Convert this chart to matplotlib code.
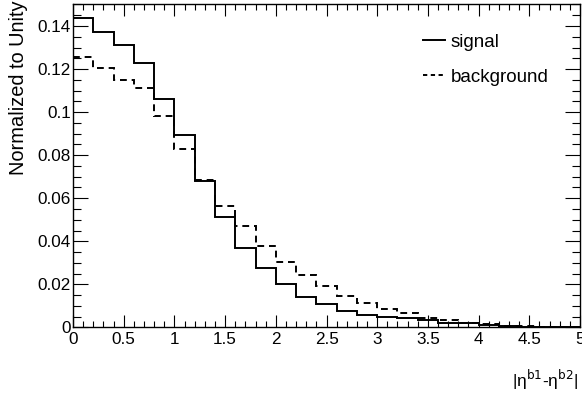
import numpy as np
import matplotlib
matplotlib.use("Agg")
import matplotlib.pyplot as plt
from matplotlib.lines import Line2D
from matplotlib.ticker import MultipleLocator, FormatStrFormatter

plt.rcParams["font.family"] = ["Liberation Sans", "DejaVu Sans"]

# |eta_b1 - eta_b2| histogram, 25 bins of 0.2 from 0 to 5
bin_edges = np.linspace(0.0, 5.0, 26)
signal = [0.1437, 0.1373, 0.1310, 0.1230, 0.1062, 0.0892, 0.0679, 0.0514,
          0.0371, 0.0274, 0.0201, 0.0143, 0.0108, 0.0076, 0.0060, 0.0049,
          0.0042, 0.0034, 0.0021, 0.0019, 0.0011, 0.0006, 0.0004, 0.0002,
          0.0001]
background = [0.1256, 0.1206, 0.1150, 0.1112, 0.0981, 0.0829, 0.0684, 0.0564,
              0.0471, 0.0379, 0.0304, 0.0242, 0.0191, 0.0148, 0.0112, 0.0086,
              0.0065, 0.0045, 0.0034, 0.0023, 0.0015, 0.0009, 0.0006, 0.0004,
              0.0002]

fig = plt.figure(figsize=(5.82, 3.93), dpi=100)
ax = fig.add_axes([0.1254, 0.1667, 0.8712, 0.8231])

ax.stairs(signal, bin_edges, baseline=None, color="black", lw=1.4)
ax.stairs(background, bin_edges, baseline=None, color="black", lw=1.4,
          linestyle=(0, (3.5, 2.5)))

ax.set_xlim(0, 5)
ax.set_ylim(0, 0.1502)

ax.xaxis.set_major_locator(MultipleLocator(0.5))
ax.xaxis.set_minor_locator(MultipleLocator(0.1))
ax.yaxis.set_major_locator(MultipleLocator(0.02))
ax.yaxis.set_minor_locator(MultipleLocator(0.005))
ax.xaxis.set_major_formatter(FormatStrFormatter("%g"))
ax.yaxis.set_major_formatter(FormatStrFormatter("%g"))

ax.tick_params(which="both", direction="in", top=True, right=True,
               labelsize=12.3, width=0.8)
ax.tick_params(axis="x", which="major", length=8.5, pad=3.5)
ax.tick_params(axis="x", which="minor", length=4.5)
ax.tick_params(axis="y", which="major", length=10.5, pad=1.5)
ax.tick_params(axis="y", which="minor", length=5.5)
for s in ax.spines.values():
    s.set_linewidth(1.0)

fig.text(0.031, 0.998, "Normalized to Unity", rotation=90, ha="center",
         va="top", fontsize=14.4)
fig.text(0.993, 0.033, "|η$^{\\rm b1}$-η$^{\\rm b2}$|", ha="right",
         va="center", fontsize=12.4)

handles = [Line2D([], [], color="black", lw=1.4),
           Line2D([], [], color="black", lw=1.4, linestyle=(0, (2.2, 1.8)))]
ax.legend(handles, ["signal", "background"], frameon=False, fontsize=13.5,
          loc="upper left", bbox_to_anchor=(0.69, 0.908), borderpad=0,
          borderaxespad=0, handlelength=1.17, handletextpad=0.32,
          labelspacing=0.95)

fig.savefig("out.png", dpi=100)
